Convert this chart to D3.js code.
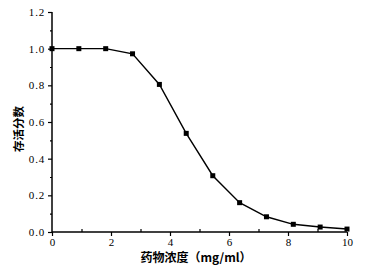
<!DOCTYPE html>
<html><head><meta charset="utf-8">
<script src="https://cdn.jsdelivr.net/npm/d3@7"></script>
<style>body{margin:0;background:#fff}svg{display:block}</style>
</head><body>
<svg id="c" width="365" height="279"></svg>
<script>
const concentration = [0, 0.91, 1.82, 2.73, 3.64, 4.55, 5.45, 6.36, 7.27, 8.18, 9.09, 10];
const survival = [1.0, 1.0, 1.0, 0.972, 0.805, 0.538, 0.307, 0.16, 0.083, 0.042, 0.027, 0.016];
const xTicks = [0, 2, 4, 6, 8, 10];
const yTicks = [0.0, 0.2, 0.4, 0.6, 0.8, 1.0, 1.2];
const xLabel = "药物浓度（mg/ml）";
const yLabel = "存活分数";

const svg = d3.select("#c");
const x = d3.scaleLinear().domain([0, 10]).range([52, 347]);
const y = d3.scaleLinear().domain([0, 1.2]).range([232, 12]);
const serif = "'Liberation Serif','DejaVu Serif',serif";

// x axis
const gx = svg.append("g").attr("transform", `translate(0,${y(0)})`);
gx.call(d3.axisBottom(x).tickValues(d3.range(1, 10, 2)).tickSize(3).tickFormat(""));
gx.call(g => g.selectAll(".tick line").attr("y2", -3));
const gx2 = svg.append("g").attr("transform", `translate(0,${y(0)})`);
gx2.call(d3.axisBottom(x).tickValues(xTicks).tickSize(4).tickPadding(2).tickFormat(d3.format("d")));
[gx, gx2].forEach(g => {
  g.select(".domain").attr("stroke-width", 1.5).attr("stroke", "#000");
  g.selectAll(".tick line").attr("stroke", "#000").attr("stroke-width", 1.2);
  g.selectAll("text").attr("font-family", serif).attr("font-size", 11).attr("fill", "#000");
});
gx2.select(".domain").attr("d", `M${x(0)},0H${x(10)}`);
gx.select(".domain").remove();

// y axis
const gy = svg.append("g").attr("transform", `translate(${x(0)},0)`);
gy.call(d3.axisLeft(y).tickValues(d3.range(0.1, 1.2, 0.2)).tickSize(2).tickFormat(""));
const gy2 = svg.append("g").attr("transform", `translate(${x(0)},0)`);
gy2.call(d3.axisLeft(y).tickValues(yTicks).tickSize(4).tickPadding(3).tickFormat(d3.format(".1f")));
[gy, gy2].forEach(g => {
  g.select(".domain").attr("stroke-width", 1.5).attr("stroke", "#000");
  g.selectAll(".tick line").attr("stroke", "#000").attr("stroke-width", 1.2);
  g.selectAll("text").attr("font-family", serif).attr("font-size", 11).attr("letter-spacing", 0.8).attr("fill", "#000");
});
gy2.select(".domain").attr("d", `M0,${y(1.2)}V${y(0)}`);
gy.select(".domain").remove();

// line
const pts = concentration.map((c, i) => [c, survival[i]]);
svg.append("path").datum(pts)
  .attr("fill", "none").attr("stroke", "#000").attr("stroke-width", 1.4)
  .attr("d", d3.line().x(d => x(d[0])).y(d => y(d[1])).curve(d3.curveLinear));

svg.selectAll("rect.m").data(pts).enter().append("rect").attr("class", "m")
  .attr("x", d => x(d[0]) - 2.5).attr("y", d => y(d[1]) - 2.5)
  .attr("width", 5).attr("height", 5).attr("fill", "#000");

// labels
svg.append("text").attr("x", 196).attr("y", 262).attr("text-anchor", "middle")
  .attr("font-family", "'Noto Sans CJK SC',sans-serif").attr("font-size", 12).attr("font-weight", "bold")
  .text(xLabel);
svg.append("text").attr("transform", `translate(23,129) rotate(-90)`).attr("text-anchor", "middle")
  .attr("font-family", "'Noto Sans CJK SC',sans-serif").attr("font-size", 11.5).attr("font-weight", "bold")
  .text(yLabel);
</script>
</body></html>
